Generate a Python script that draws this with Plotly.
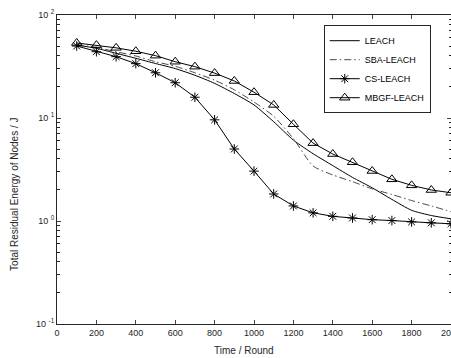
import plotly.graph_objects as go

rounds = [100, 200, 300, 400, 500, 600, 700, 800, 900, 1000,
          1100, 1200, 1300, 1400, 1500, 1600, 1700, 1800, 1900, 2000]
leach = [51, 47.5, 42.5, 38, 33.8, 30.2, 26, 21.7, 17.3, 13.4,
         9.2, 6.1, 4.5, 3.45, 2.65, 2.1, 1.62, 1.27, 1.13, 1.05]
sba_leach = [51.5, 48.5, 44, 40, 35.2, 31.8, 27.5, 23.3, 18.8, 14.3,
             10.4, 6.3, 3.42, 2.8, 2.41, 2.05, 1.81, 1.58, 1.4, 1.23]
cs_leach = [50, 44, 39.4, 33.7, 27.5, 22.0, 15.9, 9.6, 5.0, 3.05,
            1.83, 1.40, 1.20, 1.11, 1.07, 1.03, 1.01, 0.98, 0.96, 0.94]
mbgf_leach = [53.5, 51, 48, 44.5, 40.3, 35.2, 31.5, 27.3, 22.9, 17.8,
              13.4, 8.7, 5.7, 4.47, 3.72, 3.06, 2.54, 2.22, 2.0, 1.88]

x_ticks = [0, 200, 400, 600, 800, 1000, 1200, 1400, 1600, 1800, 2000]
y_ticks = [0.1, 1, 10, 100]
y_ticktext = ["10 <sup>-1</sup>", "10 <sup>0</sup>", "10 <sup>1</sup>", "10 <sup>2</sup>"]
y_minor = [m * d for d in (0.1, 1, 10) for m in range(2, 10)]

FONT = "Liberation Sans, Arial, Helvetica, sans-serif"
AX = "#262626"

fig = go.Figure()
fig.add_trace(go.Scatter(x=rounds, y=leach, name="LEACH", mode="lines",
                         line=dict(color="black", width=1, shape="spline", smoothing=0.6)))
fig.add_trace(go.Scatter(x=rounds, y=sba_leach, name="SBA-LEACH", mode="lines",
                         line=dict(color="#333333", width=0.9, dash="7px,3px,1.5px,3px",
                                   shape="spline", smoothing=0.6)))
fig.add_trace(go.Scatter(x=rounds, y=cs_leach, name="CS-LEACH", mode="lines+markers",
                         line=dict(color="black", width=1),
                         marker=dict(symbol="asterisk-open", size=8, color="black",
                                     line=dict(color="black", width=1))))
fig.add_trace(go.Scatter(x=rounds, y=mbgf_leach, name="MBGF-LEACH", mode="lines+markers",
                         line=dict(color="black", width=1),
                         marker=dict(symbol="triangle-up-open", size=9, color="black",
                                     line=dict(color="black", width=1))))

fig.update_layout(
    template="none",
    width=451, height=358,
    margin=dict(l=57, r=0, t=15, b=34),
    paper_bgcolor="white", plot_bgcolor="white",
    font=dict(family=FONT, size=9, color=AX),
    showlegend=True,
    legend=dict(x=0.677, y=0.967, xanchor="left", yanchor="top",
                bordercolor=AX, borderwidth=1, bgcolor="white",
                font=dict(family=FONT, size=9, color="black"),
                tracegroupgap=0, itemwidth=30),
    xaxis=dict(range=[0, 2000], tickvals=x_ticks, ticks="inside", ticklen=4,
               showline=True, linecolor=AX, linewidth=1, mirror="ticks",
               showgrid=False, zeroline=False, automargin=False,
               ticklabeloverflow="allow",
               tickfont=dict(family=FONT, size=9, color=AX)),
    yaxis=dict(type="log", range=[-1, 2], tickvals=y_ticks, ticktext=y_ticktext,
               ticks="inside", ticklen=4, showline=True, linecolor=AX, linewidth=1,
               mirror="ticks", showgrid=False, zeroline=False, automargin=False,
               tickfont=dict(family=FONT, size=9, color=AX),
               minor=dict(tickvals=y_minor, ticks="inside", ticklen=2.5, tickcolor=AX,
                          showgrid=False)),
    annotations=[
        dict(text="Time / Round", xref="paper", yref="paper", x=0.474, y=-0.087,
             xanchor="center", yanchor="middle", showarrow=False,
             font=dict(family=FONT, size=10, color=AX)),
        dict(text="Total Residual Energy of Nodes / J", xref="paper", yref="paper",
             x=-0.1066, y=0.421, xanchor="center", yanchor="middle", showarrow=False,
             textangle=-90, font=dict(family=FONT, size=10, color=AX)),
    ],
)

# Remove the page's default body margin so the figure fills the window exactly.
fig.write_html("out.html",
               config={"displayModeBar": False},
               post_script="document.body.style.margin='0';"
                           "document.body.style.overflow='hidden';")
